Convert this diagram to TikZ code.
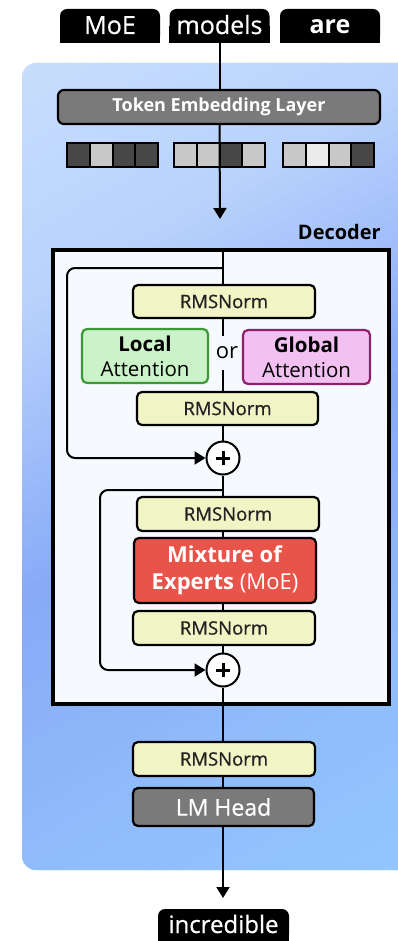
\documentclass[tikz,border=0pt]{standalone}
\usepackage{fontspec}
\setmainfont{Open Sans}
\newfontface\medface{Open Sans}[FakeBold=0.6]
\usetikzlibrary{arrows.meta,calc}

\definecolor{bgA}{HTML}{C8DEFD}
\definecolor{bgB}{HTML}{B8D2FC}
\definecolor{bgC}{HTML}{88AAF7}
\definecolor{bgD}{HTML}{8FBBFB}
\definecolor{bgE}{HTML}{94C6FD}
\definecolor{decfill}{HTML}{F6FAFF}
\definecolor{normfill}{HTML}{F1F4C4}
\definecolor{localfill}{HTML}{CBF2C8}
\definecolor{localline}{HTML}{3A9A35}
\definecolor{globalfill}{HTML}{F2C1F2}
\definecolor{globalline}{HTML}{8E1F6B}
\definecolor{moefill}{HTML}{E8534A}
\definecolor{graybox}{HTML}{7A7A7A}
\definecolor{textdark}{HTML}{222222}
\definecolor{cellD}{HTML}{474747}
\definecolor{cellL}{HTML}{C8C8C8}
\definecolor{cellW}{HTML}{ECECEC}

\pgfdeclarelayer{backdrop}
\pgfdeclarelayer{frame}
\pgfdeclarelayer{edges}
\pgfsetlayers{backdrop,frame,edges,main}

\tikzset{
  wire/.style={draw=black, line width=2pt},
  tip/.style={-{Triangle[width=13pt,length=11pt]}},
  box/.style={draw=black, line width=2.2pt, rounded corners=5pt, inner sep=0pt, align=center},
  normbox/.style={box, fill=normfill, minimum width=182pt, minimum height=33pt,
    font=\fontsize{18.5}{20}\medface, text=textdark},
  attnbox/.style={box, minimum width=126pt, minimum height=54pt,
    font=\fontsize{20.5}{25}\selectfont, text=black},
  graynode/.style={box, fill=graybox, text=white},
  token/.style={fill=black, rounded corners=7pt, text=white, inner sep=0pt,
    text height=19pt, text depth=3pt,
    minimum height=34pt, font=\fontsize{25}{28}\medface},
  sumnode/.style={circle, draw=black, line width=2pt, fill=white, minimum size=33pt, inner sep=0pt},
  plusmark/.style={line width=3pt, line cap=butt},
  cell/.style={draw=black, line width=2pt},
}

\begin{document}
\begin{tikzpicture}[x=1pt,y=-1pt]
\useasboundingbox (0,0) rectangle (398,941);

% blue backdrop with a diagonal gradient built from thin bands
\begin{pgfonlayer}{backdrop}
\begin{scope}
  \clip[rounded corners=14pt] (22,63) rectangle (430,870);
  \fill[bgA] (-100,-100) rectangle (500,1000);
  \foreach \ta/\tb/\ca/\cb in {60/280/bgA/bgB, 280/530/bgB/bgC, 530/760/bgC/bgD, 760/960/bgD/bgE}{
    \foreach \j in {0,...,23}{
      \pgfmathsetmacro{\tl}{\ta+(\tb-\ta)*\j/24}
      \pgfmathsetmacro{\th}{\ta+(\tb-\ta)*(\j+1)/24+0.8}
      \pgfmathsetmacro{\pc}{100*(\j+0.5)/24}
      \fill[color=\cb!\pc!\ca] ({0.5*\tl-866},{0.866*\tl+500}) -- ({0.5*\tl+866},{0.866*\tl-500})
        -- ({0.5*\th+866},{0.866*\th-500}) -- ({0.5*\th-866},{0.866*\th+500}) -- cycle;
    }
  }
  \fill[bgE] ({0.5*960-866},{0.866*960+500}) -- ({0.5*960+866},{0.866*960-500})
    -- ({0.5*1400+866},{0.866*1400-500}) -- ({0.5*1400-866},{0.866*1400+500}) -- cycle;
\end{scope}
\end{pgfonlayer}

% input tokens
\node[token, minimum width=100pt] (tokMoE) at (110,26) {MoE};
\node[token, minimum width=100pt] (tokModels) at (219.5,26) {models};
\node[token, minimum width=100pt, font=\fontsize{25}{28}\selectfont\bfseries] (tokAre) at (330,26) {are};

% output token
\node[token, minimum width=131pt, minimum height=32pt, font=\fontsize{24}{26}\medface] (outTok) at (223.5,925) {incredible};

\begin{pgfonlayer}{edges}
  \foreach \t in {tokMoE,tokModels,tokAre,outTok}{
    \fill (\t.south west) rectangle (\t.east);
  }
\end{pgfonlayer}

% embedding layer and embedding vectors
\node[graynode, rounded corners=6pt, minimum width=322pt, minimum height=34pt,
      font=\fontsize{18}{20}\selectfont\bfseries] (embed) at (219,107) {Token Embedding Layer};

\foreach \x/\ca/\cb/\cc/\cd in {67/cellD/cellL/cellD/cellD, 174/cellL/cellL/cellD/cellL, 283/cellL/cellW/cellL/cellD}{
  \foreach \k/\c in {0/\ca,1/\cb,2/\cc,3/\cd}{
    \filldraw[cell, fill=\c] ({\x+22.75*\k},143) rectangle ({\x+22.75*(\k+1)},167);
  }
}

\coordinate (embOut) at (220,219);
\begin{pgfonlayer}{edges}
  \draw[wire] (tokModels.south) -- (tokModels.south |- embed.north);
\end{pgfonlayer}
\draw[wire, tip] (tokModels.south |- embed.south) -- (embOut);

% decoder block
\begin{pgfonlayer}{frame}
  \node[draw=black, line width=3.5pt, fill=decfill, minimum width=336pt, minimum height=454pt,
        anchor=north west, inner sep=0pt] (decoder) at (51,248) {};
\end{pgfonlayer}
\node[anchor=base east, font=\fontsize{20}{22}\selectfont\bfseries, inner sep=0pt] (declabel) at (381,240) {Decoder};

\node[normbox] (norm1) at (224,301.5) {RMSNorm};
\node[attnbox, draw=localline, fill=localfill] (local) at (145,356) {\textbf{Local}\\Attention};
\node[attnbox, draw=globalline, fill=globalfill, minimum width=127pt] (global) at (306.5,357) {\textbf{Global}\\Attention};
\node[fill=decfill, minimum width=22pt, minimum height=34pt, inner sep=0pt,
      font=\fontsize{22}{24}\selectfont] (orword) at (227,353) {or};
\node[normbox, minimum width=181pt] (norm2) at (227.5,408.5) {RMSNorm};
\node[sumnode] (plus1) at (223,458) {};

\node[normbox, minimum height=34pt] (norm3) at (228,514) {RMSNorm};
\node[box, fill=moefill, text=white, minimum width=182pt, minimum height=65pt,
      font=\fontsize{22}{27}\selectfont] (moe) at (225,570.5) {\textbf{Mixture of}\\\textbf{Experts} (MoE)};
\node[normbox, minimum height=34pt] (norm4) at (224,628) {RMSNorm};
\node[sumnode] (plus2) at (223,670) {};

\foreach \p in {plus1,plus2}{
  \draw[plusmark] ($(\p.center)+(-7,0)$) -- ($(\p.center)+(7,0)$);
  \draw[plusmark] ($(\p.center)+(0,-7)$) -- ($(\p.center)+(0,7)$);
}

% output head
\node[normbox, minimum height=34pt] (norm5) at (224,759) {RMSNorm};
\node[graynode, minimum width=181pt, minimum height=38pt,
      font=\fontsize{23}{26}\medface] (lmhead) at (223.5,807) {LM Head};
\coordinate (outEnd) at (223,898);

% connectors
\coordinate (split1) at (223,268);
\coordinate (split2) at (223,490);
\begin{pgfonlayer}{edges}
  \draw[wire] (plus1.north |- decoder.north) -- (plus1.north);
  \draw[wire, tip, rounded corners=8pt] (split1) -- (67,268) |- (plus1.west);
  \draw[wire] (plus1.south) -- (plus2.north);
  \draw[wire, tip, rounded corners=8pt] (split2) -- (100,490) |- (plus2.west);
  \draw[wire] (plus2.south) -- (norm5.north -| plus2.south);
  \draw[wire] (norm5.south -| plus2.south) -- (lmhead.north -| plus2.south);
\end{pgfonlayer}
\draw[wire, tip] (lmhead.south -| plus2.south) -- (outEnd);

\end{tikzpicture}
\end{document}
